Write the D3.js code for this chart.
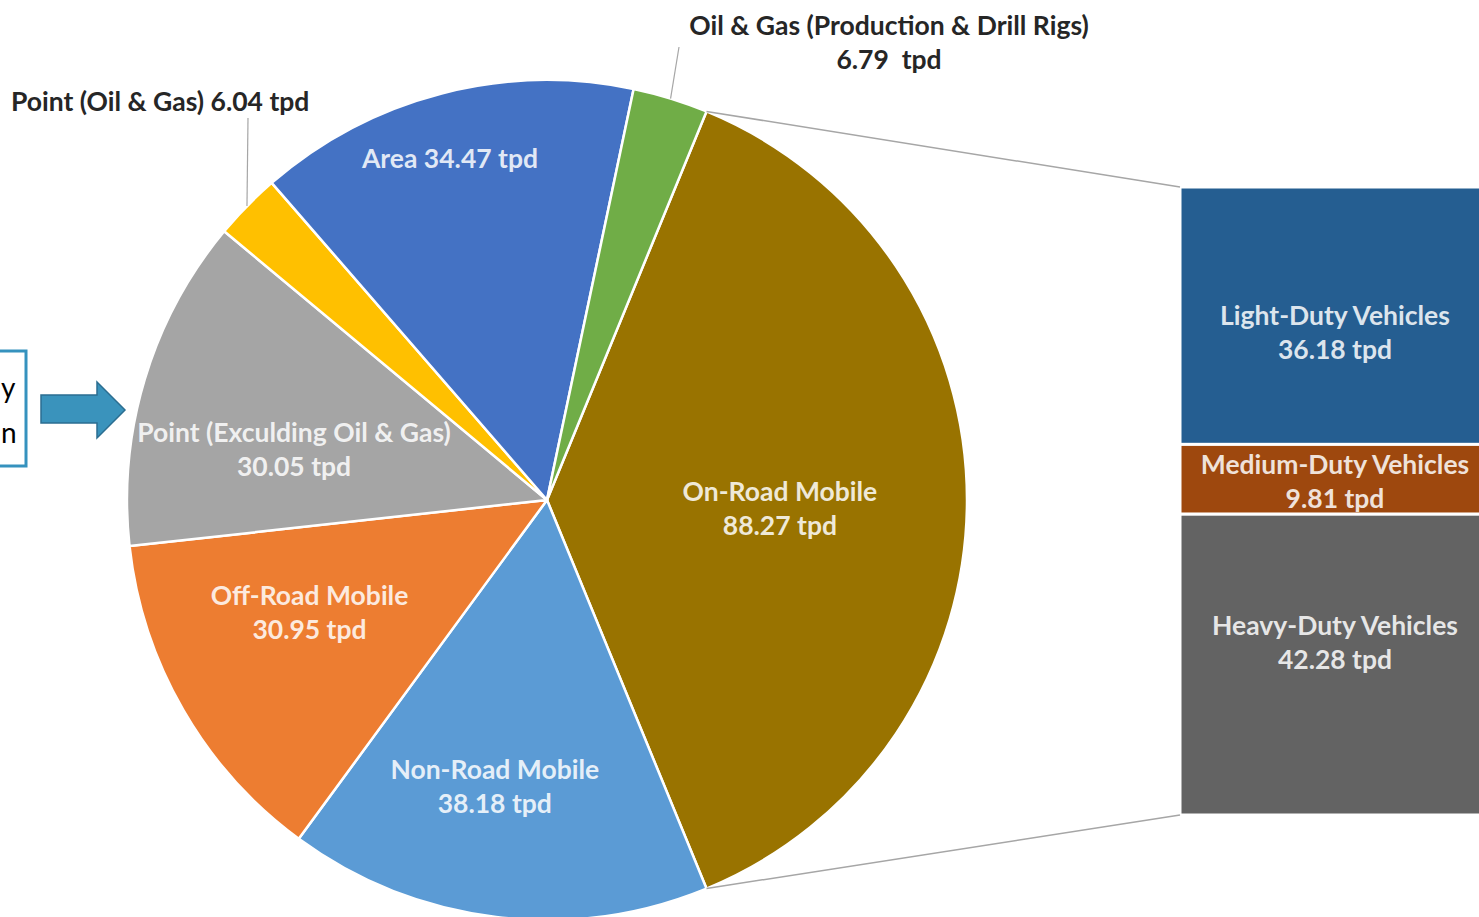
<!DOCTYPE html>
<html>
<head>
<meta charset="utf-8">
<script src="https://cdn.jsdelivr.net/npm/d3@7"></script>
<style>
  html, body { margin: 0; padding: 0; background: #fff; overflow: hidden; }
  svg { display: block; }
  text { font-family: Lato, "Open Sans", sans-serif; font-weight: 700; white-space: pre; }
</style>
</head>
<body>
<svg id="chart" width="1479" height="917"></svg>
<script>
// ---- data ----
const categories = ["On-Road Mobile", "Non-Road Mobile", "Off-Road Mobile", "Point (Exculding Oil & Gas)", "Point (Oil & Gas)", "Area", "Oil & Gas (Production & Drill Rigs)"];
const values = [88.27, 38.18, 30.95, 30.05, 6.04, 34.47, 6.79];
const valueLabels = ["88.27 tpd", "38.18 tpd", "30.95 tpd", "30.05 tpd", "6.04 tpd", "34.47 tpd", "6.79  tpd"];
const subCategories = ["Light-Duty Vehicles", "Medium-Duty Vehicles", "Heavy-Duty Vehicles"];
const subValues = [36.18, 9.81, 42.28];
const subValueLabels = ["36.18 tpd", "9.81 tpd", "42.28 tpd"];

// ---- styles / layout ----
const sliceColors = ["#997300", "#5B9BD5", "#ED7D31", "#A5A5A5", "#FFC000", "#4472C4", "#70AD47"];
const subColors = ["#255E91", "#9E480E", "#636363"];
const cx = 547, cy = 500, R = 420;
// inside label placement: [radius fraction, angle in degrees (clockwise from top)]
const insideLabelPos = { 0: [0.555, 92.2], 1: [0.695, 190.3], 2: [0.626, 244.6], 3: [0.614, 281.2], 5: [0.843, 344.1] };
const subLabelShift = [17, 3, -22];

const svg = d3.select("#chart");
const total = d3.sum(values);
const otherAngle = values[0] / total * 2 * Math.PI;
const start = Math.PI / 2 - otherAngle / 2;

const pie = d3.pie().sort(null).value(d => d).startAngle(start).endAngle(start + 2 * Math.PI);
const arcs = pie(values);
const arc = d3.arc().innerRadius(0).outerRadius(R);

const g = svg.append("g").attr("transform", `translate(${cx},${cy})`);
g.selectAll("path.slice").data(arcs).join("path")
  .attr("class", "slice")
  .attr("d", arc)
  .attr("fill", (d, i) => sliceColors[i])
  .attr("stroke", "#fff")
  .attr("stroke-width", 2.5)
  .attr("stroke-linejoin", "round");

function polar(r, a) { return [r * Math.sin(a), -r * Math.cos(a)]; }

// ---- bar of pie ----
const barX0 = 1180, barX1 = 1490;
const y = d3.scaleLinear().domain([0, d3.sum(subValues)]).range([187, 815]);
const cum = d3.cumsum([0, ...subValues]);
const bars = svg.append("g");
bars.selectAll("rect").data(subValues).join("rect")
  .attr("x", barX0).attr("width", barX1 - barX0)
  .attr("y", (d, i) => y(cum[i]))
  .attr("height", (d, i) => y(cum[i + 1]) - y(cum[i]))
  .attr("fill", (d, i) => subColors[i])
  .attr("stroke", "#fff").attr("stroke-width", 3);

// connector lines
const a0 = arcs[0].startAngle, a1 = arcs[0].endAngle;
const p0 = polar(R, a0), p1 = polar(R, a1);
svg.append("line").attr("x1", cx + p0[0]).attr("y1", cy + p0[1]).attr("x2", barX0).attr("y2", y(0))
  .attr("stroke", "#A6A6A6").attr("stroke-width", 1.5);
svg.append("line").attr("x1", cx + p1[0]).attr("y1", cy + p1[1]).attr("x2", barX0).attr("y2", y(d3.sum(subValues)))
  .attr("stroke", "#A6A6A6").attr("stroke-width", 1.5);

// ---- labels ----
const fs = 26.5;
function twoLine(sel, x, yy, l1, l2, anchor, fill, op) {
  const t = sel.append("text").attr("x", x).attr("y", yy)
    .attr("text-anchor", anchor).attr("font-size", fs)
    .attr("fill", fill).attr("fill-opacity", op);
  t.append("tspan").attr("x", x).attr("dy", "-0.3em").text(l1);
  t.append("tspan").attr("x", x).attr("dy", "1.28em").text(l2);
}

Object.keys(insideLabelPos).forEach(k => {
  const i = +k;
  const [f, deg] = insideLabelPos[k];
  const p = polar(f * R, deg * Math.PI / 180);
  if (i === 5) {
    svg.append("text").attr("x", cx + p[0]).attr("y", cy + p[1] + 9)
      .attr("text-anchor", "middle").attr("font-size", fs)
      .attr("fill", "#fff").attr("fill-opacity", 0.85)
      .text(categories[i] + " " + valueLabels[i]);
  } else {
    twoLine(svg, cx + p[0], cy + p[1], categories[i], valueLabels[i], "middle", "#fff", 0.85);
  }
});

// sub bar labels
subValues.forEach((v, i) => {
  const ym = (y(cum[i]) + y(cum[i + 1])) / 2;
  twoLine(svg, 1335, ym + subLabelShift[i], subCategories[i], subValueLabels[i], "middle", "#fff", 0.85);
});

// outside labels with leader lines
const m6 = (arcs[6].startAngle + arcs[6].endAngle) / 2;
const q6 = polar(R, m6);
svg.append("line").attr("x1", cx + q6[0]).attr("y1", cy + q6[1]).attr("x2", 679).attr("y2", 47)
  .attr("stroke", "#A6A6A6").attr("stroke-width", 1.2);
twoLine(svg, 889, 43, categories[6], valueLabels[6], "middle", "#262626", 1);

const m4 = (arcs[4].startAngle + arcs[4].endAngle) / 2;
const q4 = polar(R, m4);
svg.append("line").attr("x1", cx + q4[0]).attr("y1", cy + q4[1]).attr("x2", 248).attr("y2", 118)
  .attr("stroke", "#A6A6A6").attr("stroke-width", 1.2);
svg.append("text").attr("x", 11).attr("y", 111).attr("font-size", fs).attr("fill", "#262626")
  .text(categories[4] + " " + valueLabels[4]);

// ---- partial box + arrow at left edge ----
svg.append("rect").attr("x", -10).attr("y", 351).attr("width", 36).attr("height", 115)
  .attr("fill", "#fff").attr("stroke", "#3592BE").attr("stroke-width", 3);
svg.append("text").attr("x", 1).attr("y", 398)
  .attr("font-size", 28).style("font-weight", 400).attr("fill", "#000").text("y");
svg.append("text").attr("x", 1).attr("y", 443)
  .attr("font-size", 28).style("font-weight", 400).attr("fill", "#000").text("n");
const arrowPts = [[41, 395], [97, 395], [97, 382], [125, 410], [97, 438], [97, 423], [41, 423]];
svg.append("path").attr("d", d3.line()(arrowPts) + "Z")
  .attr("fill", "#3A93BC").attr("stroke", "#2B6E91").attr("stroke-width", 1.5);
</script>
</body>
</html>
